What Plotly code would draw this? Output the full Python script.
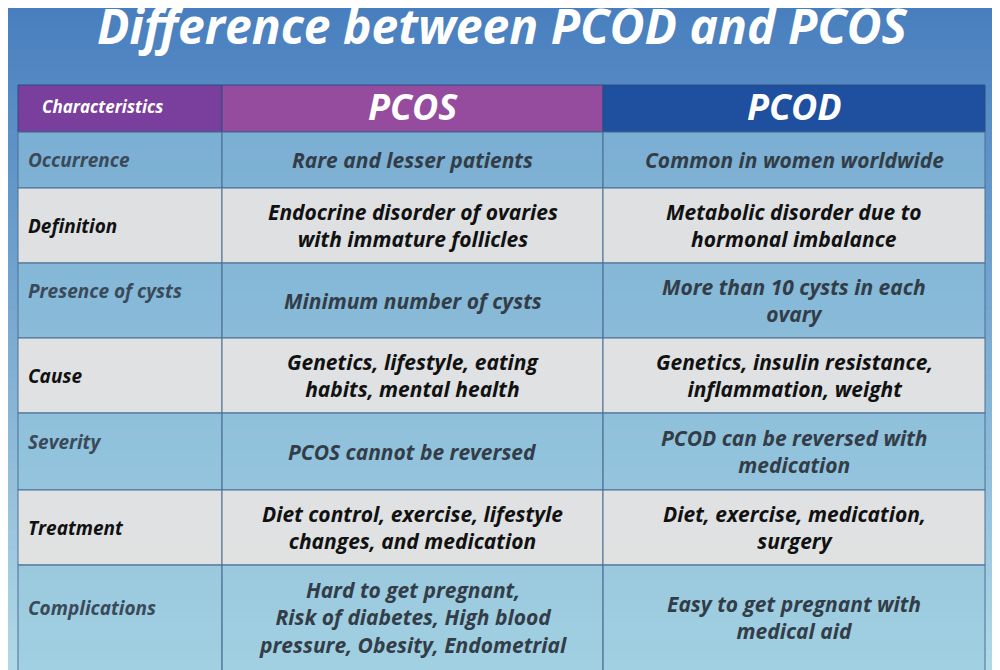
import plotly.graph_objects as go

title = "Difference between PCOD and PCOS"
headers = ["Characteristics", "PCOS", "PCOD"]
characteristics = ["Occurrence", "Definition", "Presence of cysts", "Cause",
                   "Severity", "Treatment", "Complications"]
pcos = ["Rare and lesser patients",
        "Endocrine disorder of ovaries<br>with immature follicles",
        "Minimum number of cysts",
        "Genetics, lifestyle, eating<br>habits, mental health",
        "PCOS cannot be reversed",
        "Diet control, exercise, lifestyle<br>changes, and medication",
        "Hard to get pregnant,<br>Risk of diabetes, High blood<br>pressure, Obesity, Endometrial"]
pcod = ["Common in women worldwide",
        "Metabolic disorder due to<br>hormonal imbalance",
        "More than 10 cysts in each<br>ovary",
        "Genetics, insulin resistance,<br>inflammation, weight",
        "PCOD can be reversed with<br>medication",
        "Diet, exercise, medication,<br>surgery",
        "Easy to get pregnant with<br>medical aid"]

# layout geometry
cols = [18, 222, 603, 985]
rows = [85, 132, 188, 263, 338, 413, 490, 565, 700]
FONT = "Open Sans"
OFF = 8  # page body margin

fig = go.Figure()
shapes = []
# gradient background
n = 70
for i in range(n):
    t = i / (n - 1)
    r = int(70 + t * (180 - 70)); g = int(125 + t * (220 - 125)); b = int(190 + t * (232 - 190))
    shapes.append(dict(type="rect", x0=-20, x1=1020, y0=i * 10 - 10, y1=i * 10 + 0.5,
                       fillcolor=f"rgb({r},{g},{b})", line_width=0, layer="below"))

hcol = ["#7a3f9c", "#954c9e", "#1f4f9f"]
for j in range(3):
    shapes.append(dict(type="rect", x0=cols[j], x1=cols[j + 1], y0=rows[0], y1=rows[1],
                       fillcolor=hcol[j], line=dict(color="#2b4f80", width=1)))
for i in range(len(characteristics)):
    fill = "rgba(150,200,222,0.55)" if i % 2 == 0 else "rgba(226,226,226,0.97)"
    for j in range(3):
        shapes.append(dict(type="rect", x0=cols[j], x1=cols[j + 1], y0=rows[i + 1], y1=rows[i + 2],
                           fillcolor=fill, line=dict(color="#4a6f95", width=1)))

ann = []
ann.append(dict(x=503, y=25, text=f"<b><i>{title}</i></b>", showarrow=False,
                font=dict(family=FONT, size=48, color="white")))
ann.append(dict(x=cols[0] + 22, y=(rows[0] + rows[1]) / 2 - 2, xanchor="left",
                text=f"<b><i>{headers[0]}</i></b>", showarrow=False,
                font=dict(family=FONT, size=17, color="white")))
for j in (1, 2):
    ann.append(dict(x=(cols[j] + cols[j + 1]) / 2, y=(rows[0] + rows[1]) / 2 - 2,
                    text=f"<b><i>{headers[j]}</i></b>", showarrow=False,
                    font=dict(family=FONT, size=36, color="white")))
for i in range(len(characteristics)):
    yc = (rows[i + 1] + min(rows[i + 2], 670)) / 2
    bold = i % 2 == 1
    ann.append(dict(x=cols[0] + 8, y=yc - 10 if i % 2 == 0 and i > 0 else yc, xanchor="left",
                    text=f"<b><i>{characteristics[i]}</i></b>", showarrow=False,
                    font=dict(family=FONT, size=19, color="#111" if bold else "#3a4a5a")))
    for j, col in ((1, pcos), (2, pcod)):
        ann.append(dict(x=(cols[j] + cols[j + 1]) / 2, y=yc, text=f"<b><i>{col[i]}</i></b>",
                        showarrow=False, align="center",
                        font=dict(family=FONT, size=21, color="#111" if bold else "#333d48")))

fig.update_layout(width=1000, height=670, margin=dict(l=0, r=0, t=0, b=0),
                  shapes=shapes, annotations=ann, plot_bgcolor="white", paper_bgcolor="white",
                  xaxis=dict(range=[OFF, 1000 + OFF], visible=False, fixedrange=True),
                  yaxis=dict(range=[670 + OFF, OFF], visible=False, fixedrange=True),
                  showlegend=False)
fig.write_html("out.html")
